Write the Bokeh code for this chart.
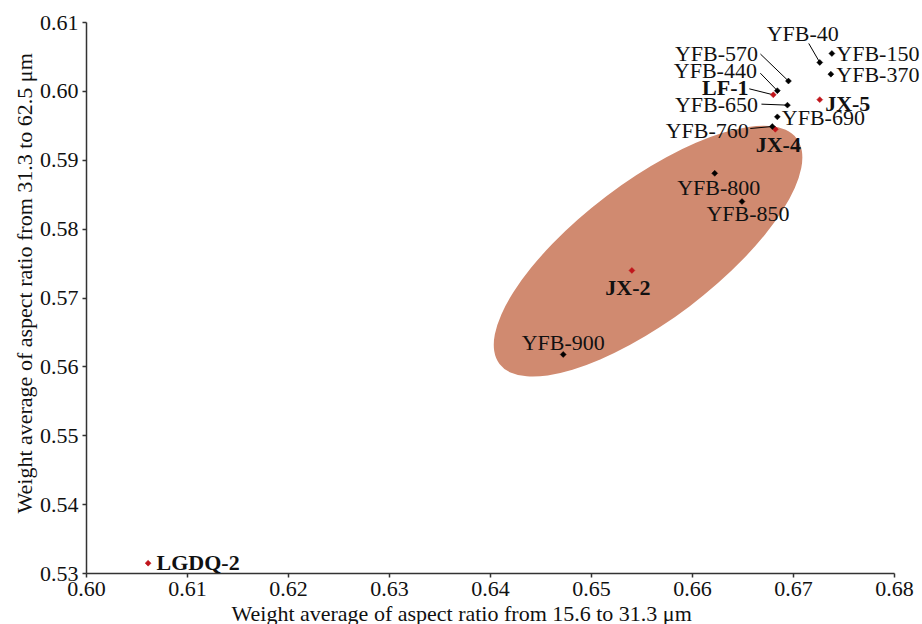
import math
from bokeh.plotting import figure
from bokeh.models import ColumnDataSource, LabelSet, Range1d, FixedTicker, Title
from bokeh.core.properties import value
from bokeh.embed import file_html
from bokeh.resources import INLINE

# ---------------- data ----------------
samples = ["LGDQ-2", "YFB-900", "JX-2", "YFB-800", "YFB-850", "JX-4", "YFB-760",
           "YFB-690", "YFB-650", "LF-1", "YFB-440", "YFB-570", "JX-5", "YFB-40",
           "YFB-370", "YFB-150"]
x_vals = [0.6061, 0.6472, 0.6540, 0.6622, 0.6649, 0.6682, 0.6679,
          0.6684, 0.6694, 0.6680, 0.6684, 0.6695, 0.6726, 0.6726,
          0.6737, 0.6738]
y_vals = [0.5315, 0.5618, 0.5740, 0.5881, 0.5840, 0.5945, 0.5949,
          0.5963, 0.5980, 0.5995, 0.6001, 0.6015, 0.5988, 0.6042,
          0.6025, 0.6055]
highlighted = ["LGDQ-2", "JX-2", "JX-4", "JX-5", "LF-1"]

x_ticks = [0.60, 0.61, 0.62, 0.63, 0.64, 0.65, 0.66, 0.67, 0.68]
x_tick_labels = ["0.60", "0.61", "0.62", "0.63", "0.64", "0.65", "0.66", "0.67", "0.68"]
y_ticks = [0.53, 0.54, 0.55, 0.56, 0.57, 0.58, 0.59, 0.60, 0.61]
y_tick_labels = ["0.53", "0.54", "0.55", "0.56", "0.57", "0.58", "0.59", "0.60", "0.61"]

x_title = "Weight average of aspect ratio from 15.6 to 31.3 \u03bcm"
y_title = "Weight average of aspect ratio from 31.3 to 62.5 \u03bcm"

# shaded field (centre in data units)
field_center_x = 0.6556
field_center_y = 0.5768

# ---------------- layout / styles ----------------
AXW, FH = 808, 551          # pixel length of the drawn axes
EXTRA_R = 28                # free room right of the x axis for labels
X0, X1 = x_ticks[0], x_ticks[-1]
Y0, Y1 = y_ticks[0], y_ticks[-1]
PXX = AXW / (X1 - X0)
PXY = FH / (Y1 - Y0)

FONT = "Liberation Serif"
FS = "22px"
BLACK = "#000000"
RED = "#C0151B"
FIELD = "#D08A70"
AXIS_C = "#333333"

# label offsets in screen px (dx right, dy down)
label_offsets = {
    "LGDQ-2": (50, -1), "YFB-900": (0, -12), "JX-2": (-4, 17), "YFB-800": (4, 14),
    "YFB-850": (6, 12), "JX-4": (3, 15), "YFB-760": (-65, 4), "YFB-690": (46, 1),
    "YFB-650": (-71, -1), "LF-1": (-48, -7), "YFB-440": (-62, -20),
    "YFB-570": (-72, -28), "JX-5": (28, 4), "YFB-40": (-17, -29),
    "YFB-370": (47, 0), "YFB-150": (46, 0),
}
# leader line far ends in screen px relative to the point
leaders = {
    "YFB-40": (-11, -19), "YFB-570": (-28, -27), "YFB-440": (-17, -17.5),
    "LF-1": (-24, -6), "YFB-650": (-26, -1), "YFB-760": (-22, 2),
}

p = figure(frame_width=AXW + EXTRA_R, frame_height=FH, output_backend="svg",
           toolbar_location=None,
           x_range=Range1d(X0, X1 + EXTRA_R / PXX), y_range=Range1d(Y0, Y1),
           min_border_left=86, min_border_right=0, min_border_top=22, min_border_bottom=51)
p.outline_line_color = None
p.grid.visible = False
p.background_fill_color = "white"
p.border_fill_color = "white"

for ax, ticks, labs in ((p.xaxis[0], x_ticks, x_tick_labels), (p.yaxis[0], y_ticks, y_tick_labels)):
    ax.ticker = FixedTicker(ticks=ticks)
    ax.bounds = (ticks[0], ticks[-1])
    ax.major_label_overrides = {t: l for t, l in zip(ticks, labs)}
    ax.minor_tick_line_color = None
    ax.major_tick_in = 0
    ax.major_tick_out = 4
    ax.axis_line_color = AXIS_C
    ax.axis_line_width = 1.5
    ax.major_tick_line_color = AXIS_C
    ax.major_tick_line_width = 1.5
    ax.major_label_text_font = "'Liberation Serif', serif"
    ax.major_label_text_font_style = "normal"
    ax.major_label_text_font_size = FS
    ax.major_label_text_color = "#111111"
    ax.major_label_standoff = 4

# field
p.ellipse(x=[field_center_x], y=[field_center_y], width=373, height=138,
          angle=math.radians(37.2), width_units="screen", height_units="screen",
          fill_color=FIELD, line_color=None)

# leader lines
lx0, ly0, lx1, ly1 = [], [], [], []
for s, xv, yv in zip(samples, x_vals, y_vals):
    if s in leaders:
        dx, dy = leaders[s]
        lx0.append(xv); ly0.append(yv)
        lx1.append(xv + dx / PXX); ly1.append(yv - dy / PXY)
p.segment(x0=lx0, y0=ly0, x1=lx1, y1=ly1, line_color=BLACK, line_width=1)

# points
colors = [RED if s in highlighted else BLACK for s in samples]
p.scatter(x=x_vals, y=y_vals, marker="square", size=4.2, angle=math.pi / 4,
          fill_color=colors, line_color=colors, line_width=0.5)

# labels
for bold in (False, True):
    sel = [i for i, s in enumerate(samples) if (s in highlighted) == bold]
    src = ColumnDataSource(dict(
        x=[x_vals[i] for i in sel], y=[y_vals[i] for i in sel],
        t=[samples[i] for i in sel],
        dx=[label_offsets[samples[i]][0] for i in sel],
        dy=[-label_offsets[samples[i]][1] for i in sel],
    ))
    p.add_layout(LabelSet(x="x", y="y", text="t", source=src, x_offset="dx", y_offset="dy",
                          text_align="center", text_baseline="middle",
                          text_font=value(FONT), text_font_size=FS,
                          text_font_style="bold" if bold else "normal",
                          text_color="#111111"))

# axis titles
p.add_layout(Title(text=x_title, align="left", offset=145, standoff=0,
                   text_font=FONT, text_font_size=FS, text_font_style="normal",
                   text_color="#111111"), "below")
p.add_layout(Title(text=y_title, align="left", offset=60, standoff=0,
                   text_font=FONT, text_font_size=FS, text_font_style="normal",
                   text_color="#111111"), "left")

open("out.html", "w").write(file_html(p, INLINE))
